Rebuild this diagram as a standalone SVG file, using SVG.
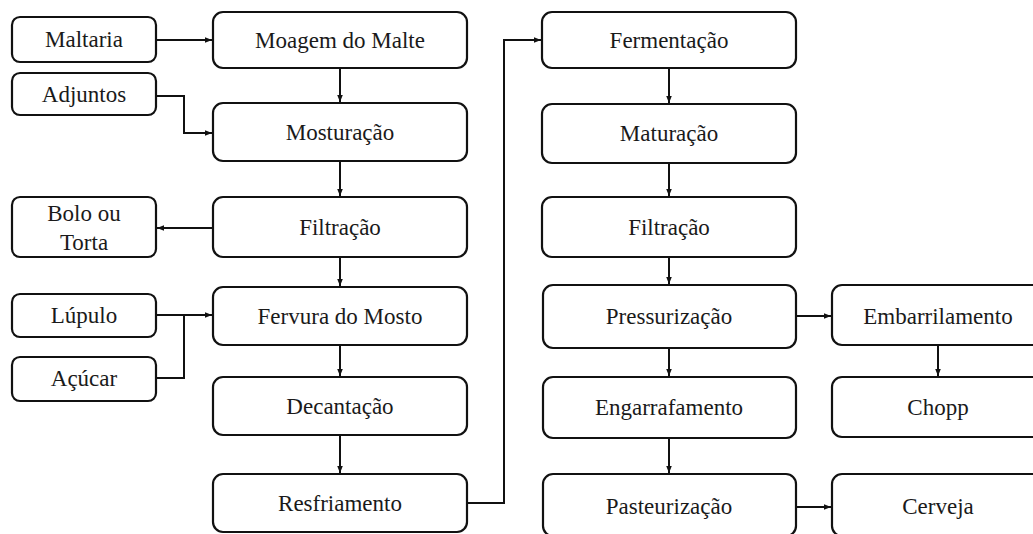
<svg xmlns="http://www.w3.org/2000/svg" width="1033" height="534" viewBox="0 0 1033 534">
<style>
.box{fill:#fff;stroke:#111;stroke-width:2.2}
.t{font-family:'Liberation Serif',serif;font-size:23px;fill:#1a1a1a;text-anchor:middle}
.c{fill:none;stroke:#111;stroke-width:2}
</style>
<defs>
<marker id="ah" viewBox="0 0 10 10" refX="10" refY="5" markerWidth="7" markerHeight="7" markerUnits="userSpaceOnUse" orient="auto">
<path d="M0,1 L10,5 L0,9 Z" fill="#111"/>
</marker>
</defs>
<rect width="1033" height="534" fill="#fff"/>
<g id="connectors">
<path class="c" d="M156,40 H212" marker-end="url(#ah)"/>
<path class="c" d="M156,96 H184 V133 H212" marker-end="url(#ah)"/>
<path class="c" d="M340,68 V102" marker-end="url(#ah)"/>
<path class="c" d="M340,161 V196" marker-end="url(#ah)"/>
<path class="c" d="M213,228 H157" marker-end="url(#ah)"/>
<path class="c" d="M340,257 V286" marker-end="url(#ah)"/>
<path class="c" d="M156,315 H212" marker-end="url(#ah)"/>
<path class="c" d="M156,378 H184 V315"/>
<path class="c" d="M340,345 V376" marker-end="url(#ah)"/>
<path class="c" d="M340,435 V473" marker-end="url(#ah)"/>
<path class="c" d="M467,503 H504 V40 H541" marker-end="url(#ah)"/>
<path class="c" d="M669,68 V103" marker-end="url(#ah)"/>
<path class="c" d="M669,163 V196" marker-end="url(#ah)"/>
<path class="c" d="M669,257 V284" marker-end="url(#ah)"/>
<path class="c" d="M796,316 H831" marker-end="url(#ah)"/>
<path class="c" d="M938,345 V376" marker-end="url(#ah)"/>
<path class="c" d="M669,348 V376" marker-end="url(#ah)"/>
<path class="c" d="M669,438 V473" marker-end="url(#ah)"/>
<path class="c" d="M796,507 H831" marker-end="url(#ah)"/>
</g>
<g id="maltaria"><rect class="box" x="12" y="17" width="144" height="45" rx="8"/><text class="t" x="84" y="47">Maltaria</text></g>
<g id="adjuntos"><rect class="box" x="12" y="73" width="144" height="42" rx="8"/><text class="t" x="84" y="102">Adjuntos</text></g>
<g id="bolo"><rect class="box" x="12" y="197" width="144" height="60" rx="8"/><text class="t" x="84" y="221">Bolo ou</text><text class="t" x="84" y="250">Torta</text></g>
<g id="lupulo"><rect class="box" x="12" y="294" width="144" height="43" rx="8"/><text class="t" x="84" y="323">Lúpulo</text></g>
<g id="acucar"><rect class="box" x="12" y="357" width="144" height="44" rx="8"/><text class="t" x="84" y="386">Açúcar</text></g>
<g id="moagem"><rect class="box" x="213" y="12" width="254" height="56" rx="10"/><text class="t" x="340" y="48">Moagem do Malte</text></g>
<g id="mosturacao"><rect class="box" x="213" y="103" width="254" height="58" rx="10"/><text class="t" x="340" y="140">Mosturação</text></g>
<g id="filtracao1"><rect class="box" x="213" y="197" width="254" height="60" rx="10"/><text class="t" x="340" y="235">Filtração</text></g>
<g id="fervura"><rect class="box" x="213" y="287" width="254" height="58" rx="10"/><text class="t" x="340" y="324">Fervura do Mosto</text></g>
<g id="decantacao"><rect class="box" x="213" y="377" width="254" height="58" rx="10"/><text class="t" x="340" y="414">Decantação</text></g>
<g id="resfriamento"><rect class="box" x="213" y="474" width="254" height="58" rx="10"/><text class="t" x="340" y="511">Resfriamento</text></g>
<g id="fermentacao"><rect class="box" x="542" y="12" width="254" height="56" rx="10"/><text class="t" x="669" y="48">Fermentação</text></g>
<g id="maturacao"><rect class="box" x="542" y="104" width="254" height="59" rx="10"/><text class="t" x="669" y="141">Maturação</text></g>
<g id="filtracao2"><rect class="box" x="542" y="197" width="254" height="60" rx="10"/><text class="t" x="669" y="235">Filtração</text></g>
<g id="pressurizacao"><rect class="box" x="543" y="285" width="253" height="63" rx="10"/><text class="t" x="669" y="324">Pressurização</text></g>
<g id="engarrafamento"><rect class="box" x="543" y="377" width="253" height="61" rx="10"/><text class="t" x="669" y="415">Engarrafamento</text></g>
<g id="pasteurizacao"><rect class="box" x="543" y="474" width="253" height="62" rx="10"/><text class="t" x="669" y="514">Pasteurização</text></g>
<g id="embarrilamento"><rect class="box" x="832" y="285" width="212" height="60" rx="10"/><text class="t" x="938" y="324">Embarrilamento</text></g>
<g id="chopp"><rect class="box" x="832" y="377" width="212" height="60" rx="10"/><text class="t" x="938" y="415">Chopp</text></g>
<g id="cerveja"><rect class="box" x="832" y="474" width="212" height="62" rx="10"/><text class="t" x="938" y="514">Cerveja</text></g>
</svg>
